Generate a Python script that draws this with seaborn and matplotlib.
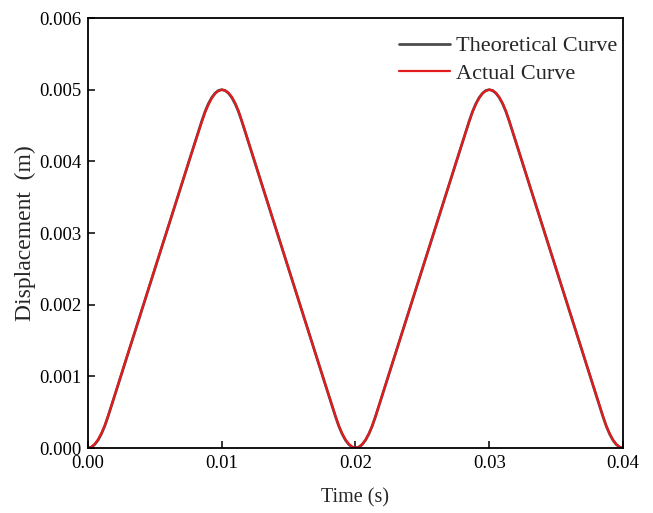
import matplotlib
matplotlib.use("Agg")
import matplotlib.pyplot as plt
import seaborn as sns
import pandas as pd

# ---- data ----
time_s = [0.0, 0.00025, 0.0005, 0.00075, 0.001, 0.00125, 0.0015, 0.002, 0.0025, 0.003,
          0.0035, 0.004, 0.0045, 0.005, 0.0055, 0.006, 0.0065, 0.007, 0.0075, 0.008,
          0.0085, 0.00875, 0.009, 0.00925, 0.0095, 0.00975, 0.01,
          0.01025, 0.0105, 0.01075, 0.011, 0.01125, 0.0115, 0.012, 0.0125, 0.013, 0.0135,
          0.014, 0.0145, 0.015, 0.0155, 0.016, 0.0165, 0.017, 0.0175, 0.018, 0.0185,
          0.01875, 0.019, 0.01925, 0.0195, 0.01975, 0.02,
          0.02025, 0.0205, 0.02075, 0.021, 0.02125, 0.0215, 0.022, 0.0225, 0.023, 0.0235,
          0.024, 0.0245, 0.025, 0.0255, 0.026, 0.0265, 0.027, 0.0275, 0.028, 0.0285,
          0.02875, 0.029, 0.02925, 0.0295, 0.02975, 0.03,
          0.03025, 0.0305, 0.03075, 0.031, 0.03125, 0.0315, 0.032, 0.0325, 0.033, 0.0335,
          0.034, 0.0345, 0.035, 0.0355, 0.036, 0.0365, 0.037, 0.0375, 0.038, 0.0385,
          0.03875, 0.039, 0.03925, 0.0395, 0.03975, 0.04]

theoretical = [0, 0.000012, 0.000049, 0.000110, 0.000196, 0.000306, 0.000441, 0.000735, 0.001029, 0.001324,
               0.001618, 0.001912, 0.002206, 0.0025, 0.002794, 0.003088, 0.003382, 0.003676, 0.003971, 0.004265,
               0.004559, 0.004694, 0.004804, 0.004890, 0.004951, 0.004988, 0.005,
               0.004988, 0.004951, 0.004890, 0.004804, 0.004694, 0.004559, 0.004265, 0.003971, 0.003676, 0.003382,
               0.003088, 0.002794, 0.0025, 0.002206, 0.001912, 0.001618, 0.001324, 0.001029, 0.000735, 0.000441,
               0.000306, 0.000196, 0.000110, 0.000049, 0.000012, 0,
               0.000012, 0.000049, 0.000110, 0.000196, 0.000306, 0.000441, 0.000735, 0.001029, 0.001324, 0.001618,
               0.001912, 0.002206, 0.0025, 0.002794, 0.003088, 0.003382, 0.003676, 0.003971, 0.004265, 0.004559,
               0.004694, 0.004804, 0.004890, 0.004951, 0.004988, 0.005,
               0.004988, 0.004951, 0.004890, 0.004804, 0.004694, 0.004559, 0.004265, 0.003971, 0.003676, 0.003382,
               0.003088, 0.002794, 0.0025, 0.002206, 0.001912, 0.001618, 0.001324, 0.001029, 0.000735, 0.000441,
               0.000306, 0.000196, 0.000110, 0.000049, 0.000012, 0]

actual = [0, 0.000015, 0.000055, 0.000118, 0.000205, 0.000315, 0.000450, 0.000740, 0.001035, 0.001330,
          0.001620, 0.001915, 0.002210, 0.002505, 0.002800, 0.003090, 0.003385, 0.003680, 0.003975, 0.004262,
          0.004545, 0.004680, 0.004790, 0.004878, 0.004945, 0.004984, 0.004998,
          0.004990, 0.004958, 0.004900, 0.004815, 0.004705, 0.004565, 0.004270, 0.003975, 0.003680, 0.003385,
          0.003090, 0.002795, 0.002500, 0.002205, 0.001910, 0.001615, 0.001320, 0.001028, 0.000738, 0.000448,
          0.000314, 0.000205, 0.000118, 0.000058, 0.000018, 0.000002,
          0.000014, 0.000052, 0.000114, 0.000200, 0.000310, 0.000445, 0.000738, 0.001032, 0.001326, 0.001620,
          0.001914, 0.002208, 0.002502, 0.002796, 0.003090, 0.003384, 0.003678, 0.003972, 0.004266, 0.004556,
          0.004688, 0.004798, 0.004884, 0.004948, 0.004986, 0.004999,
          0.004990, 0.004955, 0.004895, 0.004810, 0.004700, 0.004562, 0.004268, 0.003973, 0.003678, 0.003384,
          0.003090, 0.002796, 0.002502, 0.002208, 0.001914, 0.001620, 0.001326, 0.001032, 0.000740, 0.000446,
          0.000310, 0.000202, 0.000115, 0.000053, 0.000014, 0]

x_ticks = [0.00, 0.01, 0.02, 0.03, 0.04]
x_tick_labels = ["0.00", "0.01", "0.02", "0.03", "0.04"]
y_ticks = [0.000, 0.001, 0.002, 0.003, 0.004, 0.005, 0.006]
y_tick_labels = ["0.000", "0.001", "0.002", "0.003", "0.004", "0.005", "0.006"]
series_names = ["Theoretical Curve", "Actual Curve"]

# ---- style ----
sns.set_style("ticks")
plt.rcParams["font.family"] = ["Liberation Serif", "DejaVu Serif"]

df = pd.DataFrame({"t": time_s, "theo": theoretical, "act": actual})

fig = plt.figure(figsize=(6.53, 5.13), dpi=100)
ax = fig.add_axes([0.1348, 0.1267, 0.8192, 0.8382])

sns.lineplot(data=df, x="t", y="theo", ax=ax, color="#4d4d4d", linewidth=2.0,
             label=series_names[0], sort=False)
sns.lineplot(data=df, x="t", y="act", ax=ax, color="#e41a1c", linewidth=1.6,
             label=series_names[1], sort=False)

ax.set_xlim(0, 0.04)
ax.set_ylim(0, 0.006)
ax.set_xticks(x_ticks)
ax.set_xticklabels(x_tick_labels)
ax.set_yticks(y_ticks)
ax.set_yticklabels(y_tick_labels)
ax.tick_params(direction="in", length=5, width=1.1, labelsize=13.5, colors="black",
               pad=5)
for sp in ax.spines.values():
    sp.set_visible(True)
    sp.set_linewidth(1.3)
    sp.set_color("black")

ax.set_xlabel("Time (s)", fontsize=14.5, labelpad=11.5)
ax.set_ylabel("Displacement  (m)", fontsize=17, labelpad=2)

leg = ax.legend(loc="upper right", frameon=False, fontsize=16, handlelength=2.3,
                handletextpad=0.25, labelspacing=0.3, borderaxespad=0.0,
                bbox_to_anchor=(1.0056, 0.979))

fig.savefig("out.png", dpi=100)
